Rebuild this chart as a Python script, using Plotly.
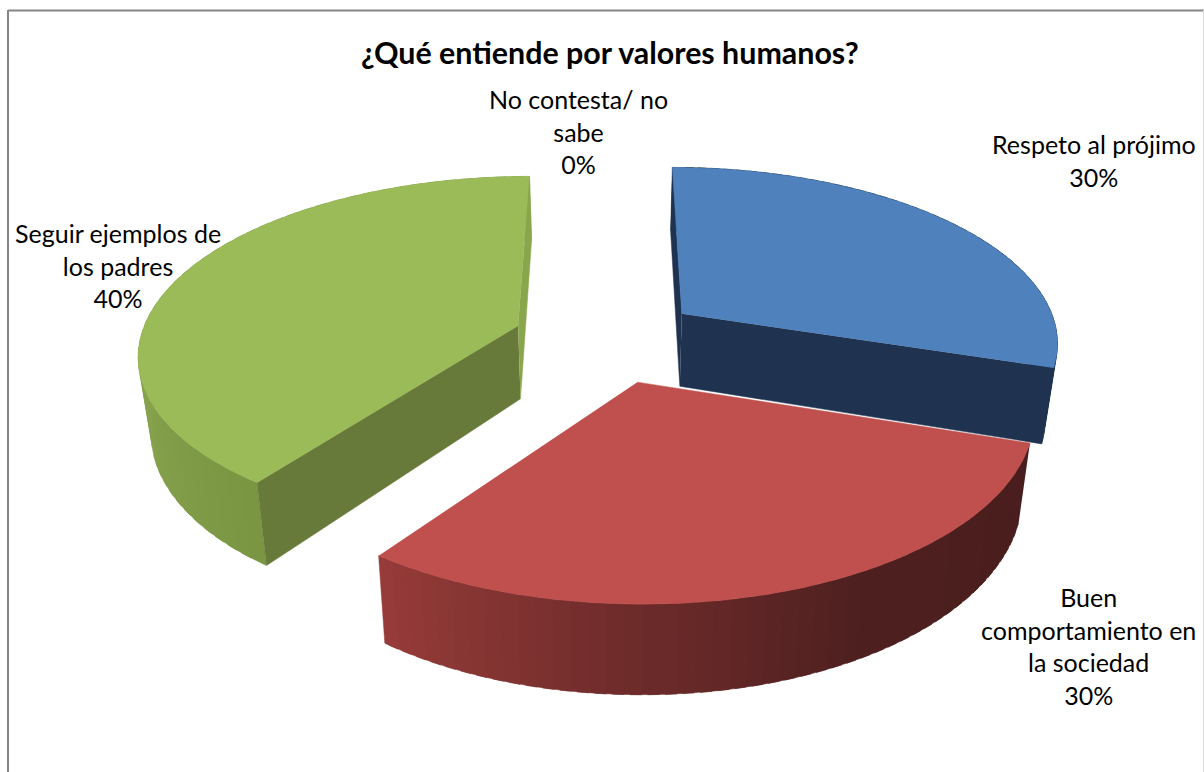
import numpy as np
import plotly.graph_objects as go

title = "¿Qué entiende por valores humanos?"
labels = ["Respeto al prójimo", "Buen comportamiento en la sociedad", "Seguir ejemplos de los padres", "No contesta/ no sabe"]
label_lines = ["Respeto al prójimo", "Buen<br>comportamiento en<br>la sociedad", "Seguir ejemplos de<br>los padres", "No contesta/ no<br>sabe"]
values = [30, 30, 40, 0]

top_colors = ["#4F81BD", "#C0504D", "#9BBB59", "#8064A2"]
start_edge_colors = ["#1F3350", None, "#687A39", None]
end_edge_colors = ["#1F3350", None, "#89A64C", None]
# wall shading stops, as fraction of the slice's sweep -> colour
wall_stops = [
    [(0, "#1F3350"), (1, "#1F3350")],
    [(0, "#4A1E1E"), (0.4, "#4F2020"), (0.68, "#6E2C2B"), (1, "#983C3A")],
    [(0, "#7A9643"), (0.25, "#86A24D"), (1, "#86A24D")],
    [(0, "#4A3A60"), (1, "#4A3A60")],
]
label_pos = [(1094, 160), (1088, 646), (118, 265.5), (578, 131)]

START = 0.0
EXPLODE = 0.25
CX, CY, RX, RY, PERSP, DEPTH, Z_SHRINK = 607, 339, 378, 175, 0.148, 74, 0.027
W, H = 1204, 772


def proj(X, Y, z):
    s = 1 / (1 + PERSP * np.asarray(Y, float))
    k = 1 - Z_SHRINK * z
    return CX + RX * np.asarray(X, float) * s * k, CY - RY * np.asarray(Y, float) * s + DEPTH * s * z


def hex2rgb(h):
    return np.array([int(h[i:i + 2], 16) for i in (1, 3, 5)], float)


def shade(stops, f):
    for (a, ca), (b, cb) in zip(stops, stops[1:]):
        if f <= b:
            t = (f - a) / (b - a) if b > a else 0
            c = hex2rgb(ca) * (1 - t) + hex2rgb(cb) * t
            return "rgb(%d,%d,%d)" % tuple(c)
    return stops[-1][1]


fig = go.Figure()


def poly(xs, ys, color):
    fig.add_trace(go.Scatter(x=list(xs), y=list(ys), mode="lines", fill="toself", fillcolor=color,
                             line=dict(color=color, width=0.5), hoverinfo="skip", showlegend=False))


total = sum(values)
a0 = START
spans = []
for v in values:
    a1 = a0 + 360 * v / total
    spans.append((a0, a1))
    a0 = a1


def draw_slice(i):
    a, b = spans[i]
    if b <= a:
        return
    mid = np.radians((a + b) / 2)
    ox, oy = EXPLODE * np.sin(mid), EXPLODE * np.cos(mid)
    th = np.radians(np.linspace(a, b, 145))
    X, Y = ox + np.sin(th), oy + np.cos(th)
    # outer wall: overlapping bands, so no seams show between them
    n = 48
    ed = np.linspace(0, len(th) - 1, n + 1).astype(int)
    for j in range(n):
        p, q = ed[j], min(ed[j + 1] + 3, len(th))
        tx, ty = proj(X[p:q], Y[p:q], 0)
        bx, by = proj(X[p:q], Y[p:q], 1)
        poly(np.r_[tx, bx[::-1]], np.r_[ty, by[::-1]], shade(wall_stops[i], (j + 0.5) / n))
    # radial cut faces that can be seen from this viewpoint
    for ang, col in ((0, start_edge_colors[i]), (-1, end_edge_colors[i])):
        if col is None:
            continue
        ex, ey = [ox, X[ang]], [oy, Y[ang]]
        tx, ty = proj(ex, ey, 0)
        bx, by = proj(ex, ey, 1)
        poly(np.r_[tx, bx[::-1]], np.r_[ty, by[::-1]], col)
    # top face
    tx, ty = proj(np.r_[ox, X], np.r_[oy, Y], 0)
    poly(tx, ty, top_colors[i])


for i in (0, 2, 1, 3):
    draw_slice(i)

ann = [dict(x=610, y=52, text="<b>%s</b>" % title, showarrow=False, font=dict(size=30.4, color="#000000"))]
for (x, y), t, v in zip(label_pos, label_lines, values):
    ann.append(dict(x=x, y=y, text="%s<br>%d%%" % (t, round(100 * v / total)), showarrow=False,
                    font=dict(size=25, color="#000000")))
for a in ann:
    a.update(xref="x", yref="y", align="center")

fig.update_layout(
    width=W, height=H, margin=dict(l=0, r=0, t=0, b=0), paper_bgcolor="white", plot_bgcolor="white",
    font=dict(family="Lato, Carlito, sans-serif"), showlegend=False, annotations=ann,
    xaxis=dict(range=[0, W], visible=False, fixedrange=True),
    yaxis=dict(range=[H, 0], visible=False, fixedrange=True),
    shapes=[
        dict(type="line", xref="x", yref="y", x0=8, x1=W, y0=10.5, y1=10.5, line=dict(color="#868686", width=2)),
        dict(type="line", xref="x", yref="y", x0=8, x1=8, y0=10, y1=H, line=dict(color="#868686", width=2)),
        dict(type="line", xref="x", yref="y", x0=1203.5, x1=1203.5, y0=10, y1=H, line=dict(color="#D9D9D9", width=1)),
    ],
)
fig.write_html("out.html", config=dict(displayModeBar=False),
               post_script="document.body.style.margin='0';document.body.style.overflow='hidden';")
